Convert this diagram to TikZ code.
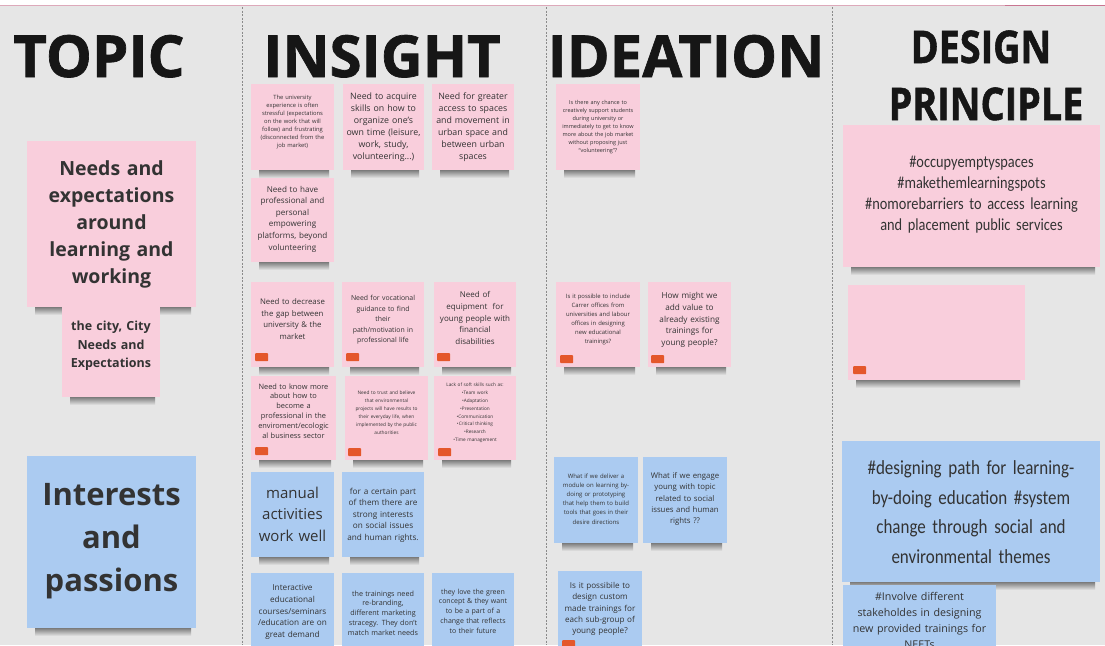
\documentclass[tikz,border=0pt]{standalone}
\usepackage{fontspec}
\setmainfont{Open Sans}
\newfontfamily\headfont[FakeBold=1.2]{Open Sans}
\newfontfamily\headcond[FakeStretch=0.84,FakeBold=1.2]{Open Sans}
\newfontfamily\handfont[FakeStretch=0.85]{Carlito}
\definecolor{bg}{HTML}{E6E6E6}
\definecolor{npink}{HTML}{F9CEDC}
\definecolor{nblue}{HTML}{ABCBF1}
\definecolor{txt}{HTML}{333333}
\definecolor{headc}{HTML}{161616}
\definecolor{tagc}{HTML}{E4572B}
\definecolor{topline}{HTML}{DDA9BA}
\definecolor{toplinedark}{HTML}{C97591}
\definecolor{sepc}{HTML}{8A8A8A}
\newcommand\fs[2]{\fontsize{#1}{#2}\selectfont}
\tikzset{
 notebase/.style={draw=none, inner sep=0pt},
 pinknote/.style={notebase, fill=npink},
 bluenote/.style={notebase, fill=nblue},
 shadowband/.style={top color=black!62, bottom color=bg},
 notetext/.style={align=center, inner sep=0pt, text=txt},
 tagbox/.style={fill=tagc, minimum width=13pt, minimum height=8pt, inner sep=0pt, rounded corners=0.8pt, anchor=north west},
 head/.style={anchor=base, text=headc, inner sep=0pt, font=\headfont\bfseries\fs{58}{58}},
 headsmall/.style={anchor=base, text=headc, inner sep=0pt, font=\headcond\bfseries\fs{45}{45}},
 sepline/.style={draw=sepc, line width=0.7pt, dash pattern=on 2pt off 1.5pt},
}
% #1 style, #2 name, #3 x1, #4 y1, #5 x2, #6 y2, #7 text centre y, #8 font, #9 text
\newcommand\stick[9]{%
 \pgfmathsetmacro\stW{#5-#3}\pgfmathsetmacro\stH{#6-#4}%
 \pgfmathsetmacro\stX{(#3+#5)/2}\pgfmathsetmacro\stY{(#4+#6)/2}%
 \pgfmathsetmacro\stT{#5-#3-2}%
 \shade[shadowband] (#3+8,#6-2) rectangle (#5-5,#6+8);
 \node[#1, minimum width=\stW pt, minimum height=\stH pt] (#2) at (\stX,\stY) {};
 \node[notetext, text width=\stT pt, font=#8] (#2-t) at (\stX,#7) {#9};}
\newcommand\tagat[3]{\node[tagbox] (#1) at (#2,#3) {};}
\begin{document}
\begin{tikzpicture}[x=1pt,y=-1pt]
\path[use as bounding box] (0,0) rectangle (1105,645);
\clip (0,0) rectangle (1105,645);
\fill[bg] (0,0) rectangle (1105,645);
\fill[white] (0,0) rectangle (1105,5);
\draw[topline, line width=1.2pt] (0,5.5) -- (1105,5.5);
\draw[toplinedark, line width=1.2pt] (1005,5.5) -- (1105,5.5);
\draw[sepline] (242,7) -- (242,645);
\draw[sepline] (546,7) -- (546,645);
\draw[sepline] (832,7) -- (832,645);
% headers
\node[head] (hTopic) at (99,77) {TOPIC};
\node[head] (hInsight) at (382,77) {INSIGHT};
\node[head] (hIdeation) at (686,77) {IDEATION};
\node[headsmall] (hDesign) at (981,63) {DESIGN};
\node[headsmall] (hPrinciple) at (986,120) {PRINCIPLE};
% topic
\stick{pinknote}{t1}{27}{141}{196}{307}{224}{\bfseries\fs{19.5}{27}}{Needs and\\expectations\\around\\learning and\\working}
\stick{pinknote}{t2}{62}{297}{160}{397}{346}{\bfseries\fs{12.5}{18.5}}{the city, City\\Needs and\\Expectations}
\stick{bluenote}{t3}{27}{456}{196}{628}{541}{\bfseries\fs{31}{43}}{Interests\\and\\passions}
% insight
\stick{pinknote}{n1}{251}{84}{334}{170}{122}{\fs{5.8}{8}}{The university\\experience is often\\stressful (expectations\\on the work that will\\follow) and frustrating\\(disconnected from the\\job market)}
\stick{pinknote}{n2}{343}{84}{424}{170}{127}{\fs{8.8}{12}}{Need to acquire\\skills on how to\\organize one’s\\own time (leisure,\\work, study,\\volunteering...)}
\stick{pinknote}{n3}{432}{84}{514}{170}{127}{\fs{8.8}{12}}{Need for greater\\access to spaces\\and movement in\\urban space and\\between urban\\spaces}
\stick{pinknote}{n4}{251}{178}{334}{262}{219}{\fs{8.1}{11.6}}{Need to have\\professional and\\personal\\empowering\\platforms, beyond\\volunteering}
\stick{pinknote}{n5}{251}{282}{334}{367}{319}{\fs{7.8}{11.5}}{Need to decrease\\the gap between\\university \& the\\market}
\stick{pinknote}{n6}{342}{282}{424}{367}{320}{\fs{6.9}{10.5}}{Need for vocational\\guidance to find\\their\\path/motivation in\\professional life}
\stick{pinknote}{n7}{434}{282}{516}{367}{318}{\fs{8}{11.7}}{Need of\\equipment\ \ for\\young people with\\financial\\disabilities}
\stick{pinknote}{n8}{251}{376}{336}{460}{411}{\fs{7.4}{9.9}}{Need to know more\\about how to\\become a\\professional in the\\enviroment/ecologic\\al business sector}
\stick{pinknote}{n9}{345}{376}{428}{460}{413}{\fs{4.8}{8}}{Need to trust and believe\\that environmental\\projects will have results to\\their everyday life, when\\implemented by the public\\authorities}
\stick{pinknote}{n10}{434}{376}{516}{460}{413}{\fs{4.7}{7.8}}{Lack of soft skills such as:\\•Team work\\•Adaptation\\•Presentation\\•Communication\\•Critical thinking\\•Research\\•Time management}
\stick{bluenote}{b1}{251}{472}{334}{557}{514}{\fs{15}{21.5}}{manual\\activities\\work well}
\stick{bluenote}{b2}{342}{472}{424}{557}{515}{\fs{8.2}{11.5}}{for a certain part\\of them there are\\strong interests\\on social issues\\and human rights.}
\stick{bluenote}{b3}{251}{573}{334}{660}{612}{\fs{8.2}{11.7}}{Interactive\\educational\\courses/seminars\\/education are on\\great demand}
\stick{bluenote}{b4}{342}{573}{424}{660}{613}{\fs{7.2}{9.8}}{the trainings need\\re-branding,\\different marketing\\stracegy. They don't\\match market needs}
\stick{bluenote}{b5}{432}{573}{514}{660}{611}{\fs{7}{9.8}}{they love the green\\concept \& they want\\to be a part of a\\change that reflects\\to their future}
\tagat{g5}{255}{353}
\tagat{g6}{346}{353}
\tagat{g7}{437}{353}
\tagat{g8}{255}{447}
\tagat{g9}{348}{448}
\tagat{g10}{438}{448}
% ideation
\stick{pinknote}{i1}{556}{84}{640}{170}{127}{\fs{5.5}{8}}{Is there any chance to\\creatively support students\\during university or\\immediately to get to know\\more about the job market\\without proposing just\\“volunteering”?}
\stick{pinknote}{i2}{556}{282}{640}{367}{319}{\fs{5.9}{9}}{Is it possible to include\\Carrer offices from\\universities and labour\\offices in designing\\new educational\\trainings?}
\stick{pinknote}{i3}{648}{282}{731}{367}{320}{\fs{8.2}{11.7}}{How might we\\add value to\\already existing\\trainings for\\young people?}
\stick{bluenote}{i4}{554}{457}{638}{543}{499}{\fs{6}{9.1}}{What if we deliver a\\module on learning by-\\doing or prototyping\\that help them to build\\tools that goes in their\\desire directions}
\stick{bluenote}{i5}{643}{457}{727}{543}{499}{\fs{7.8}{11.4}}{What if we engage\\young with topic\\related to social\\issues and human\\rights ??}
\stick{bluenote}{i6}{558}{571}{642}{660}{609}{\fs{8.1}{11.4}}{Is it possibile to\\design custom\\made trainings for\\each sub-group of\\young people?}
\tagat{g11}{560}{355}
\tagat{g12}{651}{355}
\tagat{g13}{562}{640}
% design principle
\stick{pinknote}{d1}{843}{125}{1100}{267}{195}{\handfont\fs{16.9}{21}}{\#occupyemptyspaces\\\#makethemlearningspots\\\#nomorebarriers to access learning\\and placement public services}
\stick{pinknote}{d2}{848}{285}{1025}{380}{332}{\fs{8}{10}}{}
\tagat{g14}{853}{366}
\stick{bluenote}{d3}{842}{441}{1100}{582}{512}{\handfont\fs{20}{29.5}}{\#designing path for learning-\\by-doing education \#system\\change through social and\\environmental themes}
\stick{bluenote}{d4}{843}{585}{996}{670}{620}{\fs{10.7}{16}}{\#Involve different\\stakeholdes in designing\\new provided trainings for\\NEETs}
\end{tikzpicture}
\end{document}
